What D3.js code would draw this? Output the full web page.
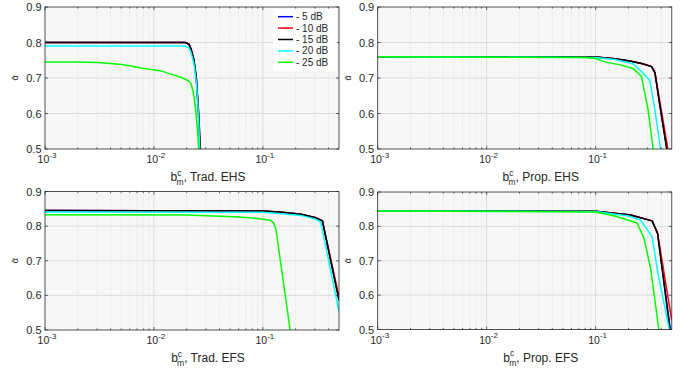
<!DOCTYPE html>
<html>
<head>
<meta charset="utf-8">
<script src="https://cdn.jsdelivr.net/npm/d3@7"></script>
<style>
  body { margin: 0; background: #fff; }
  svg { font-family: "Liberation Sans", Helvetica, Arial, sans-serif; }
</style>
</head>
<body>
<svg id="chart" width="692" height="372"></svg>
<script>
// legend / series
var snrLabels = ["- 5 dB", "- 10 dB", "- 15 dB", "- 20 dB", "- 25 dB"];
var snrColors = ["#0000ff", "#ff0000", "#000000", "#00ffff", "#00ff00"];

var yTicks = [0.5, 0.6, 0.7, 0.8, 0.9];
var xDecades = [-3, -2, -1];
var panelNames = ["Trad. EHS", "Prop. EHS", "Trad. EFS", "Prop. EFS"];

// Trad. EHS  ([b, alpha] pairs for 5,10,15,20,25 dB)
var tradEHS = [
  [[0.001,0.80],[0.0195,0.80],[0.021,0.795],[0.022,0.78],[0.0233,0.75],[0.0245,0.70],[0.0258,0.60],[0.0267,0.50],[0.027,0.46]],
  [[0.001,0.80],[0.0195,0.80],[0.021,0.795],[0.022,0.78],[0.0233,0.75],[0.0245,0.70],[0.0257,0.60],[0.0266,0.50],[0.027,0.46]],
  [[0.001,0.80],[0.0195,0.80],[0.021,0.795],[0.022,0.78],[0.0233,0.75],[0.0245,0.70],[0.0256,0.60],[0.0265,0.50],[0.027,0.46]],
  [[0.001,0.79],[0.0195,0.79],[0.021,0.785],[0.022,0.77],[0.0233,0.74],[0.0245,0.69],[0.0256,0.60],[0.0263,0.50],[0.027,0.46]],
  [[0.001,0.745],[0.002,0.745],[0.003,0.744],[0.004,0.741],[0.005,0.738],[0.0062,0.734],[0.0076,0.728],[0.0095,0.724],[0.0116,0.72],[0.0143,0.711],[0.0177,0.702],[0.0205,0.693],[0.0218,0.685],[0.023,0.66],[0.024,0.62],[0.025,0.56],[0.0258,0.50],[0.026,0.46]]
];

// Prop. EHS
var propEHS = [
  [[0.001,0.76],[0.05,0.76],[0.1,0.759],[0.15,0.754],[0.206,0.748],[0.27,0.74],[0.326,0.732],[0.35,0.715],[0.39,0.62],[0.45,0.50],[0.47,0.46]],
  [[0.001,0.76],[0.05,0.76],[0.1,0.759],[0.15,0.754],[0.206,0.748],[0.27,0.74],[0.326,0.732],[0.35,0.715],[0.395,0.62],[0.46,0.50],[0.48,0.46]],
  [[0.001,0.76],[0.05,0.76],[0.1,0.759],[0.15,0.754],[0.206,0.748],[0.27,0.74],[0.326,0.732],[0.35,0.715],[0.39,0.62],[0.45,0.50],[0.47,0.46]],
  [[0.001,0.76],[0.1,0.758],[0.15,0.752],[0.22,0.74],[0.26,0.72],[0.314,0.694],[0.35,0.61],[0.394,0.50],[0.41,0.46]],
  [[0.001,0.76],[0.08,0.758],[0.1,0.755],[0.125,0.744],[0.17,0.737],[0.22,0.727],[0.263,0.705],[0.303,0.61],[0.337,0.50],[0.35,0.46]]
];

// Trad. EFS
var tradEFS = [
  [[0.001,0.845],[0.1,0.844],[0.15,0.84],[0.223,0.834],[0.3,0.825],[0.352,0.815],[0.5,0.59]],
  [[0.001,0.845],[0.1,0.844],[0.15,0.84],[0.223,0.834],[0.3,0.825],[0.352,0.815],[0.5,0.595]],
  [[0.001,0.845],[0.1,0.844],[0.15,0.84],[0.223,0.834],[0.3,0.825],[0.352,0.815],[0.5,0.585]],
  [[0.001,0.841],[0.1,0.840],[0.15,0.836],[0.223,0.831],[0.3,0.821],[0.34,0.812],[0.5,0.553]],
  [[0.001,0.833],[0.02,0.832],[0.0545,0.827],[0.09,0.822],[0.117,0.817],[0.125,0.81],[0.132,0.79],[0.178,0.50],[0.19,0.46]]
];

// Prop. EFS
var propEFS = [
  [[0.001,0.845],[0.1,0.844],[0.209,0.833],[0.33,0.816],[0.37,0.78],[0.485,0.50],[0.5,0.47]],
  [[0.001,0.845],[0.1,0.844],[0.209,0.833],[0.33,0.816],[0.37,0.78],[0.5,0.526]],
  [[0.001,0.845],[0.1,0.844],[0.209,0.833],[0.33,0.816],[0.37,0.78],[0.48,0.50],[0.5,0.47]],
  [[0.001,0.845],[0.1,0.843],[0.2,0.83],[0.259,0.818],[0.33,0.77],[0.37,0.67],[0.474,0.50],[0.49,0.47]],
  [[0.001,0.845],[0.1,0.842],[0.15,0.83],[0.24,0.81],[0.278,0.765],[0.32,0.677],[0.38,0.50],[0.39,0.47]]
];

var panelData = [tradEHS, propEHS, tradEFS, propEFS];

var boxes = [
  {left: 45, right: 339, top: 7, bottom: 149},
  {left: 377.7, right: 671.8, top: 7, bottom: 149},
  {left: 45, right: 339, top: 191.5, bottom: 330},
  {left: 377.7, right: 671.8, top: 192, bottom: 329.5}
];

var svg = d3.select("#chart");
var axisColor = "#262626";

boxes.forEach(function(b, i) {
  var x = d3.scaleLog().domain([0.001, 0.5]).range([b.left, b.right]);
  var y = d3.scaleLinear().domain([0.5, 0.9]).range([b.bottom, b.top]);
  var g = svg.append("g");

  g.append("rect")
    .attr("x", b.left).attr("y", b.top)
    .attr("width", b.right - b.left).attr("height", b.bottom - b.top)
    .attr("fill", "#f7f7f7");

  // minor grid (log x)
  var minor = [];
  xDecades.forEach(function(d) {
    for (var k = 2; k <= 9; k++) {
      var v = k * Math.pow(10, d);
      if (v < 0.5) minor.push(v);
    }
  });
  g.selectAll(".mgrid").data(minor).enter().append("line")
    .attr("x1", d => x(d)).attr("x2", d => x(d))
    .attr("y1", b.top).attr("y2", b.bottom)
    .attr("stroke", "#d0d0d0").attr("stroke-width", 0.6)
    .attr("stroke-dasharray", "1,1.5");

  // major grid
  g.selectAll(".xgrid").data(xDecades.slice(1)).enter().append("line")
    .attr("x1", d => x(Math.pow(10, d))).attr("x2", d => x(Math.pow(10, d)))
    .attr("y1", b.top).attr("y2", b.bottom)
    .attr("stroke", "#d8d8d8").attr("stroke-width", 0.9);
  g.selectAll(".ygrid").data(yTicks.slice(1, -1)).enter().append("line")
    .attr("x1", b.left).attr("x2", b.right)
    .attr("y1", d => y(d)).attr("y2", d => y(d))
    .attr("stroke", "#d8d8d8").attr("stroke-width", 0.9);

  // lines
  var clipId = "clip" + i;
  svg.append("clipPath").attr("id", clipId).append("rect")
    .attr("x", b.left).attr("y", b.top)
    .attr("width", b.right - b.left).attr("height", b.bottom - b.top);
  var line = d3.line().x(d => x(d[0])).y(d => y(d[1]));
  g.append("g").attr("clip-path", "url(#" + clipId + ")")
    .selectAll("path").data(panelData[i]).enter().append("path")
    .attr("d", line)
    .attr("fill", "none")
    .attr("stroke", (d, j) => snrColors[j])
    .attr("stroke-width", 1.5)
    .attr("stroke-linejoin", "round");

  // box + inward ticks
  g.append("rect")
    .attr("x", b.left).attr("y", b.top)
    .attr("width", b.right - b.left).attr("height", b.bottom - b.top)
    .attr("fill", "none").attr("stroke", axisColor).attr("stroke-width", 0.8);

  var majorX = xDecades.map(d => Math.pow(10, d));
  majorX.concat(minor).forEach(function(v) {
    var len = majorX.indexOf(v) >= 0 ? 3 : 1.6;
    g.append("line").attr("x1", x(v)).attr("x2", x(v))
      .attr("y1", b.bottom).attr("y2", b.bottom - len)
      .attr("stroke", axisColor).attr("stroke-width", 0.7);
    g.append("line").attr("x1", x(v)).attr("x2", x(v))
      .attr("y1", b.top).attr("y2", b.top + len)
      .attr("stroke", axisColor).attr("stroke-width", 0.7);
  });
  yTicks.forEach(function(v) {
    g.append("line").attr("x1", b.left).attr("x2", b.left + 3)
      .attr("y1", y(v)).attr("y2", y(v))
      .attr("stroke", axisColor).attr("stroke-width", 0.7);
    g.append("line").attr("x1", b.right).attr("x2", b.right - 3)
      .attr("y1", y(v)).attr("y2", y(v))
      .attr("stroke", axisColor).attr("stroke-width", 0.7);
  });

  // tick labels
  g.selectAll(".ylab").data(yTicks).enter().append("text")
    .attr("x", b.left - 3.5).attr("y", d => y(d) + 4)
    .attr("text-anchor", "end").attr("font-size", 11).attr("fill", axisColor)
    .text(d => d.toFixed(1));

  xDecades.forEach(function(d) {
    var t = g.append("text")
      .attr("x", x(Math.pow(10, d)) + 2).attr("y", b.bottom + 14)
      .attr("text-anchor", "middle").attr("font-size", 10.5).attr("fill", axisColor);
    t.append("tspan").text("10");
    t.append("tspan").attr("dy", -5.5).attr("font-size", 8).text(String(d));
  });

  // x label
  var cx = (b.left + b.right) / 2 + 16;
  var lab = g.append("text")
    .attr("x", cx).attr("y", b.bottom + 32)
    .attr("text-anchor", "middle").attr("font-size", 12).attr("fill", axisColor);
  lab.append("tspan").text("b");
  lab.append("tspan").attr("dy", -5.5).attr("font-size", 8.5).text("c");
  lab.append("tspan").attr("dx", -5).attr("dy", 9.5).attr("font-size", 8.5).text("m");
  lab.append("tspan").attr("dy", -4).text(", " + panelNames[i]);

  // y label
  g.append("text")
    .attr("transform", "translate(" + (b.left - 27) + "," + ((b.top + b.bottom) / 2) + ") rotate(-90)")
    .attr("text-anchor", "middle").attr("font-size", 9).attr("fill", axisColor)
    .text("\u03B1\u0304");
});

// legend (top-left panel)
var lb = boxes[0];
var leg = svg.append("g");
leg.append("rect")
  .attr("x", lb.right - 66).attr("y", lb.top + 2)
  .attr("width", 64).attr("height", 62)
  .attr("fill", "#ffffff");
snrLabels.forEach(function(s, j) {
  var yy = lb.top + 9.7 + j * 11.4;
  leg.append("line")
    .attr("x1", lb.right - 61).attr("x2", lb.right - 46)
    .attr("y1", yy).attr("y2", yy)
    .attr("stroke", snrColors[j]).attr("stroke-width", 1.5);
  leg.append("text")
    .attr("x", lb.right - 43).attr("y", yy + 3.5)
    .attr("font-size", 10).attr("fill", axisColor)
    .text(s);
});
</script>
</body>
</html>
